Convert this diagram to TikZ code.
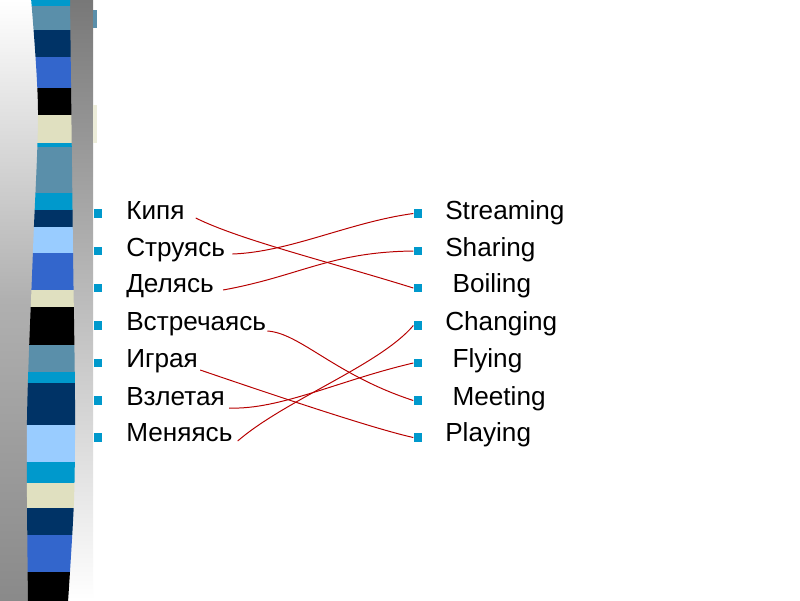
\documentclass[tikz,border=0pt]{standalone}
\usepackage{fontspec}
\setmainfont{Liberation Sans}
\usetikzlibrary{calc}

\definecolor{stcyan}{HTML}{0099CC}
\definecolor{ststeel}{HTML}{5A8FAA}
\definecolor{stnavy}{HTML}{003366}
\definecolor{stroyal}{HTML}{3366CC}
\definecolor{stbeige}{HTML}{E0E0C0}
\definecolor{stlight}{HTML}{99CCFF}
\definecolor{linkred}{HTML}{B80000}

\begin{document}
\begin{tikzpicture}[x=0.025cm,y=-0.025cm,
  sq/.style={fill=stcyan, minimum size=0.22cm, inner sep=0pt},
  word/.style={anchor=base west, inner sep=0pt, font=\fontsize{18.6}{22}\selectfont},
  link/.style={draw=linkred, line width=0.7pt}
]

\useasboundingbox (0,0) rectangle (800,600);
\fill[white] (0,0) rectangle (800,600);

% ===================== Side band =====================
\shade[top color=white, bottom color=black!46, middle color=black!31] (0,0) rectangle (40,600);
\shade[top color=black!53, bottom color=white] (60,0) rectangle (93,600);
\fill[ststeel] (93,10) rectangle (97,28);
\fill[stbeige!60] (93,105) rectangle (97,143);

\begin{scope}
  \clip plot[smooth] coordinates {(31,-2) (38,110) (33,250) (27,420) (28,602)}
     -- plot[smooth] coordinates {(68,602) (74,500) (75,400) (73,250) (70,-2)} -- cycle;
  % stripes, top to bottom
  \fill[stcyan]  (20,-2)  rectangle (80,6);
  \fill[ststeel] (20,6)   rectangle (80,30);
  \fill[stnavy]  (20,30)  rectangle (80,57);
  \fill[stroyal] (20,57)  rectangle (80,88);
  \fill[black]   (20,88)  rectangle (80,115);
  \fill[stbeige] (20,115) rectangle (80,143);
  \fill[stcyan]  (20,143) rectangle (80,147);
  \fill[ststeel] (20,147) rectangle (80,193);
  \fill[stcyan]  (20,193) rectangle (80,210);
  \fill[stnavy]  (20,210) rectangle (80,227);
  \fill[stlight] (20,227) rectangle (80,253);
  \fill[stroyal] (20,253) rectangle (80,290);
  \fill[stbeige] (20,290) rectangle (80,307);
  \fill[black]   (20,307) rectangle (80,345);
  \fill[ststeel] (20,345) rectangle (80,372);
  \fill[stcyan]  (20,372) rectangle (80,383);
  \fill[stnavy]  (20,383) rectangle (80,425);
  \fill[stlight] (20,425) rectangle (80,462);
  \fill[stcyan]  (20,462) rectangle (80,483);
  \fill[stbeige] (20,483) rectangle (80,508);
  \fill[stnavy]  (20,508) rectangle (80,535);
  \fill[stroyal] (20,535) rectangle (80,572);
  \fill[black]   (20,572) rectangle (80,602);
\end{scope}

% ===================== Russian words =====================
\node[sq] (LB1) at (98,213.5) {}; \node[word] (L1) at (126,219) {Кипя};
\node[sq] (LB2) at (98,251)   {}; \node[word] (L2) at (126,256) {Струясь};
\node[sq] (LB3) at (98,288)   {}; \node[word] (L3) at (126,292) {Делясь};
\node[sq] (LB4) at (98,325.5) {}; \node[word] (L4) at (126,330) {Встречаясь};
\node[sq] (LB5) at (98,363)   {}; \node[word] (L5) at (126,367) {Играя};
\node[sq] (LB6) at (98,400.5) {}; \node[word] (L6) at (126,405) {Взлетая};
\node[sq] (LB7) at (98,437.5) {}; \node[word] (L7) at (126,441) {Меняясь};

% ===================== English words =====================
\node[sq] (RB1) at (418,213.5) {}; \node[word] (R1) at (445,219) {Streaming};
\node[sq] (RB2) at (418,251)   {}; \node[word] (R2) at (445,256) {Sharing};
\node[sq] (RB3) at (418,288)   {}; \node[word] (R3) at (445,292) {~Boiling};
\node[sq] (RB4) at (418,325.5) {}; \node[word] (R4) at (445,330) {Changing};
\node[sq] (RB5) at (418,363)   {}; \node[word] (R5) at (445,367) {~Flying};
\node[sq] (RB6) at (418,400.5) {}; \node[word] (R6) at (445,405) {~Meeting};
\node[sq] (RB7) at (418,437.5) {}; \node[word] (R7) at (445,441) {Playing};

% ===================== Matching lines =====================
\draw[link] ($(L1.base east)+(11,-1)$) .. controls (240,240) and (330,262) .. (RB3.west);
\draw[link] ($(L2.base east)+(7,-2)$)  .. controls (290,252) and (350,222) .. (RB1.west);
\draw[link] ($(L3.base east)+(9,-2)$)  .. controls (300,276) and (330,252) .. (RB2.west);
\draw[link] ($(L4.base east)+(1,1)$)   .. controls (300,333) and (335,375) .. (RB6.west);
\draw[link] ($(L5.base east)+(2,3)$)   .. controls (250,387) and (370,428) .. (RB7.west);
\draw[link] ($(L6.base east)+(4,3)$)   .. controls (280,410) and (340,380) .. (RB5.west);
\draw[link] ($(L7.base east)+(5,0)$)   .. controls (285,400) and (380,365) .. (RB4.west);

\end{tikzpicture}
\end{document}
